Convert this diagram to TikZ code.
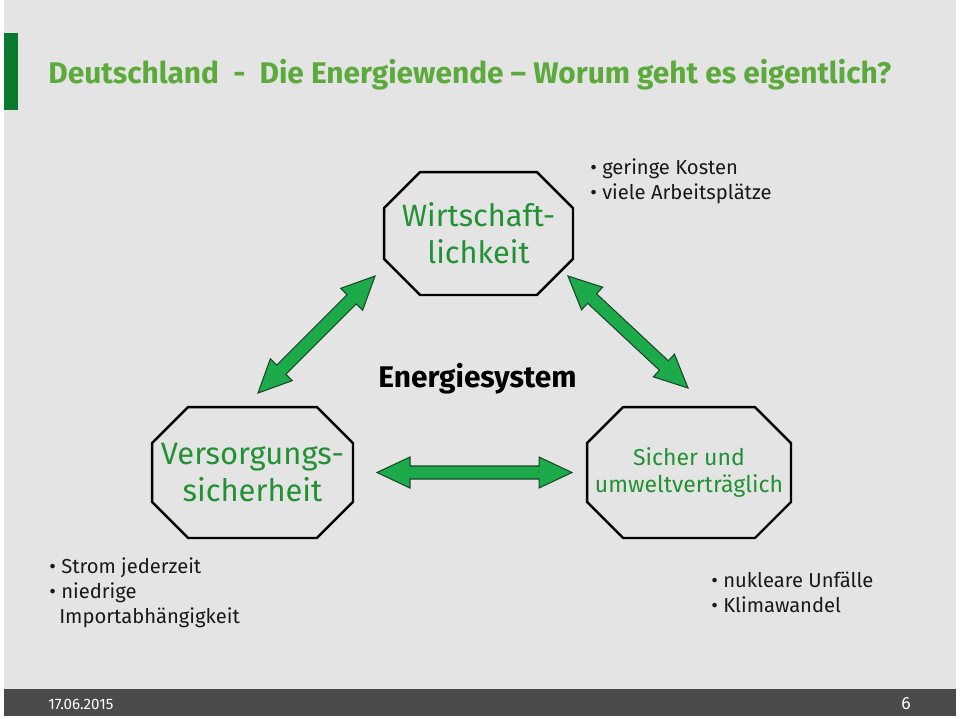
\documentclass[tikz,border=0pt]{standalone}
\usepackage{fontspec}
\setmainfont{Fira Sans}
\usetikzlibrary{positioning,calc}

\definecolor{bggray}{RGB}{228,228,228}
\definecolor{footgray}{RGB}{75,75,77}
\definecolor{bargreen}{RGB}{12,122,46}
\definecolor{titlegreen}{RGB}{92,170,60}
\definecolor{octgreen}{RGB}{34,145,52}
\definecolor{arrgreen}{RGB}{28,170,75}
\definecolor{arrline}{RGB}{25,70,40}

%% chamfered frame round a (plain) node
\newcommand{\octframe}[1]{%
\draw[octline] ($(#1.north west)+(36,0)$) -- ($(#1.north east)+(-36,0)$)
 -- ($(#1.north east)+(0,36)$) -- ($(#1.south east)+(0,-36)$)
 -- ($(#1.south east)+(-36,0)$) -- ($(#1.south west)+(36,0)$)
 -- ($(#1.south west)+(0,-36)$) -- ($(#1.north west)+(0,36)$) -- cycle;}

%% double headed block arrow from tip to tip
\newcommand{\blockarrow}[2]{%
\draw[blockarr] let \p1=($(#2)-(#1)$), \n1={atan2(\y1,\x1)} in
 (#1) -- ($(#1)+(\n1:.66cm)+({\n1+90}:.31cm)$)
 -- ($(#1)+(\n1:.66cm)+({\n1+90}:.13cm)$)
 -- ($(#2)+({\n1+180}:.66cm)+({\n1+90}:.13cm)$)
 -- ($(#2)+({\n1+180}:.66cm)+({\n1+90}:.31cm)$)
 -- (#2)
 -- ($(#2)+({\n1+180}:.66cm)+({\n1-90}:.31cm)$)
 -- ($(#2)+({\n1+180}:.66cm)+({\n1-90}:.13cm)$)
 -- ($(#1)+(\n1:.66cm)+({\n1-90}:.13cm)$)
 -- ($(#1)+(\n1:.66cm)+({\n1-90}:.31cm)$) -- cycle;}

\begin{document}
\begin{tikzpicture}
[x=.02cm,y=-.02cm,
octnode/.style={shape=rectangle,inner sep=0,outer sep=0,align=center,text=octgreen},
octline/.style={draw=black,line width=1.4pt,line join=miter},
blockarr/.style={fill=arrgreen,draw=arrline,line width=.6pt,line join=miter},
listtxt/.style={inner sep=0,anchor=north west,align=left,text=black!90,
  font=\fontsize{11.5}{14.2}\selectfont},
foottxt/.style={inner sep=0,text=white}]
%%%%%%%%%%
%%%%% page
\useasboundingbox (0,0) rectangle (960,718);
\fill[white] (0,0) rectangle (960,718);
\fill[bggray] (4,0) rectangle (956,689);
\fill[footgray] (4,689) rectangle (956,716);
\fill[bargreen] (4,33) rectangle (18,110);
\node (title) [anchor=base west,inner sep=0,text=titlegreen,
  font=\bfseries\fontsize{17}{20}\selectfont] at (48,83)
  {Deutschland\ \ -\ \ Die Energiewende -- Worum geht es eigentlich?};
%%%%%%%%%%
%%%%% triangle
%% corners
\node (wirt) [octnode,minimum width=3.78cm,minimum height=2.46cm,
  font=\fontsize{17.5}{21}\selectfont] at (478.5,233.5) {Wirtschaft-\\lichkeit};
\node (vers) [octnode,minimum width=4.02cm,minimum height=2.62cm,
  font=\fontsize{17.6}{21}\selectfont] at (252.5,472.5) {Versorgungs-\\sicherheit};
\node (sich) [octnode,minimum width=4.08cm,minimum height=2.62cm,
  font=\fontsize{13.1}{15.4}\selectfont] at (689,472.5) {Sicher und\\umweltverträglich};
\octframe{wirt}
\octframe{vers}
\octframe{sich}
\node (esys) [anchor=base,inner sep=0,font=\bfseries\fontsize{17}{20}\selectfont]
  at (477.5,387) {Energiesystem};
%% arrows
\coordinate (lt) at ($(vers.north)+(5.5,-14)$);
\coordinate (lb) at ($(wirt.south west)+(-9,-19)$);
\coordinate (rt) at ($(wirt.south east)+(-5,-19)$);
\coordinate (rb) at ($(sich.north)+(-1,-19)$);
\coordinate (ml) at ($(vers.east)+(24,0)$);
\coordinate (mr) at ($(sich.west)+(-15,0)$);
\blockarrow{lt}{lb}
\blockarrow{rt}{rb}
\blockarrow{ml}{mr}
%%%%%%%%%%
%%%%% lists
\node (wlist) [listtxt] at (590,158)
  {• geringe Kosten\\• viele Arbeitsplätze};
\node (vlist) [listtxt] at (49,557)
  {• Strom jederzeit\\• niedrige\\\hphantom{•\,}Importabhängigkeit};
\node (slist) [listtxt] at (711,572)
  {• nukleare Unfälle\\• Klimawandel};
%%%%%%%%%%
%%%%% footer
\node (date) [foottxt,anchor=west,font=\fontsize{8.6}{10}\selectfont] at (48,704) {17.06.2015};
\node (page) [foottxt,font=\fontsize{10}{12}\selectfont] at (906,704) {6};
\end{tikzpicture}
\end{document}
